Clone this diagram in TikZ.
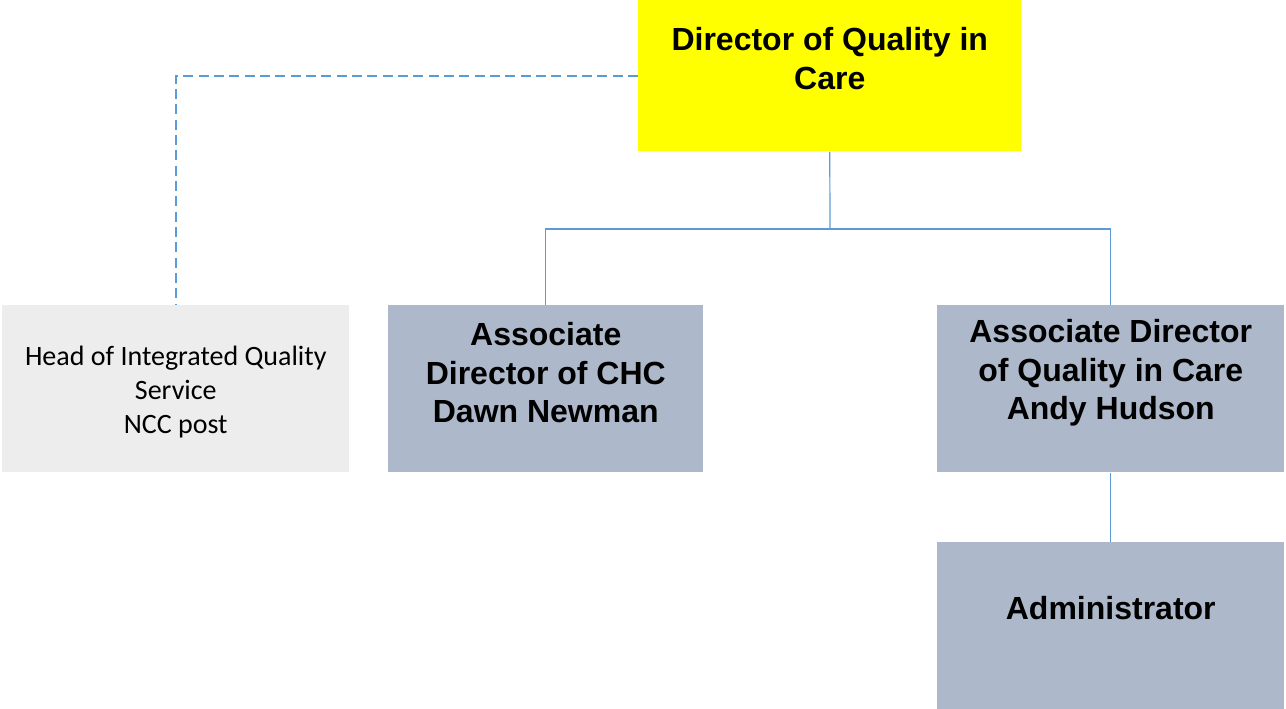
\documentclass[tikz,border=0pt]{standalone}
\usepackage{fontspec}
\setmainfont{Liberation Sans}
\newfontfamily\calib{Carlito}
\definecolor{boxyellow}{HTML}{FFFF00}
\definecolor{boxgray}{HTML}{EDEDED}
\definecolor{boxslate}{HTML}{ADB9CA}
\definecolor{linkblue}{HTML}{5B9BD5}
\begin{document}
\begin{tikzpicture}[x=0.75pt,y=-0.75pt,
  box/.style={draw=none,inner sep=0pt,anchor=north west},
  boldtxt/.style={align=center,font=\fontsize{24pt}{28.9pt}\selectfont\bfseries,inner sep=0pt},
  plaintxt/.style={align=center,font=\calib\fontsize{21pt}{25.5pt}\selectfont,inner sep=0pt},
  link/.style={draw=linkblue,line width=0.9pt},
  dlink/.style={draw=linkblue,line width=1.5pt,dash pattern=on 7.5pt off 4pt}]
\useasboundingbox (0,0) rectangle (1286,709);
% boxes
\node[box,fill=boxyellow,minimum width=383*0.75pt,minimum height=151*0.75pt] (dir) at (638,0) {};
\node[box,fill=boxgray,minimum width=347*0.75pt,minimum height=167*0.75pt] (head) at (2,305) {};
\node[box,fill=boxslate,minimum width=315*0.75pt,minimum height=167*0.75pt] (chc) at (388,305) {};
\node[box,fill=boxslate,minimum width=347*0.75pt,minimum height=167*0.75pt] (adq) at (937,305) {};
\node[box,fill=boxslate,minimum width=347*0.75pt,minimum height=167*0.75pt] (adm) at (937,542) {};
% texts
\node[boldtxt] (dirt) at ([yshift=12.75pt]dir.center) {Director of Quality in\\Care};
\node[plaintxt] (headt) at ([yshift=-2.5pt]head.center) {Head of Integrated Quality\\Service\\NCC post};
\node[boldtxt] (chct) at ([yshift=12pt]chc.center) {Associate\\Director of CHC\\Dawn Newman};
\node[boldtxt] (adqt) at ([yshift=12pt]adq.center) {Associate Director\\of Quality in Care\\Andy Hudson};
\node[boldtxt] (admt) at ([yshift=13.2pt]adm.center) {Administrator};
% connectors
\coordinate (bus) at (830,229);
\draw[link] (dir.south) -- (bus);
\draw[link] (chc.north) |- (bus) -| (adq.north);
\draw[link] (adq.south) -- (adm.north);
\draw[dlink] ([yshift=-57pt]dir.north west) -| (head.north);
\end{tikzpicture}
\end{document}
